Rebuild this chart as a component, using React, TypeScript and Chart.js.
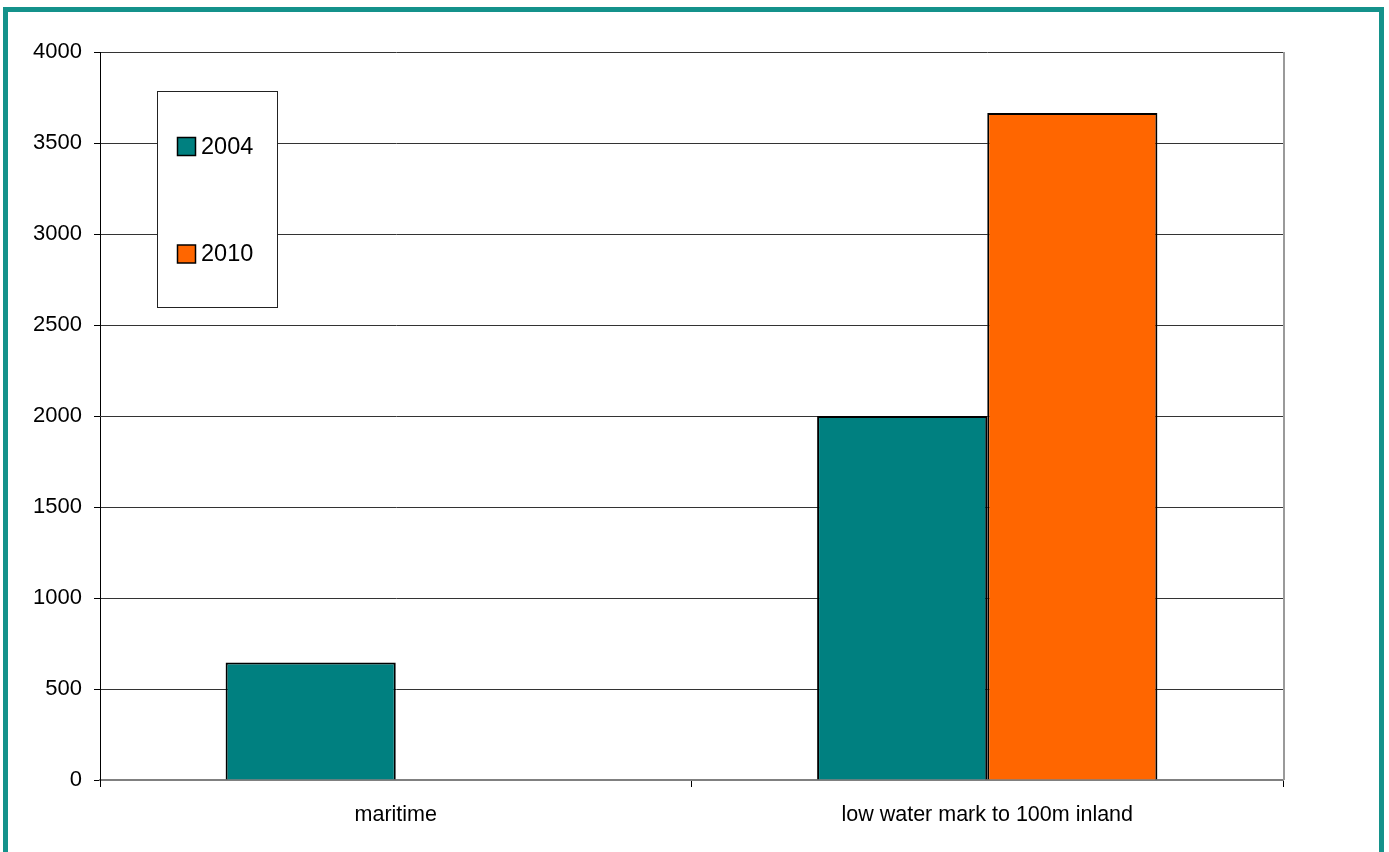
import React, { useEffect, useRef } from "react";
import { Chart, registerables } from "chart.js";

Chart.register(...registerables);

const categories: string[] = ["maritime", "low water mark to 100m inland"];
const seriesLabels: string[] = ["2004", "2010"];
const values2004: (number | null)[] = [645, 2000];
const values2010: (number | null)[] = [null, 3665];
const seriesColors: string[] = ["#008080", "#FF6600"];
const yMin = 0;
const yMax = 4000;
const yStep = 500;

const FONT = "'Liberation Sans', Arial, sans-serif";

const legendPlugin = {
  id: "boxLegend",
  afterDraw(chart: any) {
    const ctx = chart.ctx;
    const x0 = 157.5, y0 = 91.5, w = 120, h = 216;
    ctx.save();
    ctx.fillStyle = "#ffffff";
    ctx.fillRect(x0, y0, w, h);
    ctx.strokeStyle = "#222";
    ctx.lineWidth = 1;
    ctx.strokeRect(x0, y0, w, h);
    const rows = [146.5, 254];
    chart.data.datasets.forEach((ds: any, i: number) => {
      const cy = rows[i];
      ctx.fillStyle = ds.backgroundColor;
      ctx.fillRect(177.5, cy - 9, 18, 18);
      ctx.strokeStyle = "#000";
      ctx.lineWidth = 1.5;
      ctx.strokeRect(177.5, cy - 9, 18, 18);
      ctx.fillStyle = "#000";
      ctx.font = `23.5px ${FONT}`;
      ctx.textBaseline = "middle";
      ctx.textAlign = "left";
      ctx.fillText(ds.label, 201, cy + 1);
    });
    ctx.restore();
  },
};

const rightEdgePlugin = {
  id: "rightEdge",
  afterDatasetsDraw(chart: any) {
    const { ctx, chartArea } = chart;
    ctx.save();
    ctx.strokeStyle = "#9a9a9a";
    ctx.lineWidth = 2;
    ctx.beginPath();
    ctx.moveTo(chartArea.right + 1, chartArea.top);
    ctx.lineTo(chartArea.right + 1, chartArea.bottom);
    ctx.stroke();
    ctx.restore();
  },
};

export default function App() {
  const ref = useRef<HTMLCanvasElement | null>(null);

  useEffect(() => {
    document.body.style.margin = "0";
    if (!ref.current) return;
    const chart = new Chart(ref.current, {
      type: "bar",
      data: {
        labels: categories,
        datasets: [
          {
            label: seriesLabels[0],
            data: values2004,
            backgroundColor: seriesColors[0],
            borderColor: "#000",
            borderWidth: 2,
          },
          {
            label: seriesLabels[1],
            data: values2010,
            backgroundColor: seriesColors[1],
            borderColor: "#000",
            borderWidth: 2,
          },
        ],
      },
      options: {
        responsive: false,
        animation: false,
        devicePixelRatio: 1,
        layout: { padding: { top: 52, right: 106, bottom: 0, left: 0 } },
        datasets: {
          bar: { barPercentage: 1, categoryPercentage: 0.5753 },
        },
        plugins: {
          legend: { display: false },
          tooltip: { enabled: false },
          title: { display: false },
        },
        scales: {
          x: {
            afterFit: (s: any) => {
              s.height = 72;
            },
            grid: {
              offset: true,
              drawOnChartArea: false,
              drawTicks: true,
              tickLength: 7,
              color: "#000",
              tickColor: "#000",
            },
            border: { color: "#808080", width: 2 },
            ticks: {
              color: "#000",
              padding: 15,
              font: { family: FONT, size: 21.5 },
              maxRotation: 0,
            },
          },
          y: {
            min: yMin,
            max: yMax,
            afterFit: (s: any) => {
              s.width = 100;
            },
            grid: {
              color: "#333",
              lineWidth: 1,
              drawTicks: true,
              tickLength: 6,
              tickColor: "#000",
            },
            border: { color: "#000", width: 1 },
            ticks: {
              stepSize: yStep,
              color: "#000",
              padding: 12,
              font: { family: FONT, size: 22 },
              callback: (v: any) => String(v),
            },
          },
        },
      },
      plugins: [rightEdgePlugin, legendPlugin],
    });
    return () => chart.destroy();
  }, []);

  return (
    <div
      style={{
        position: "relative",
        width: 1389,
        height: 852,
        overflow: "hidden",
        background: "#fff",
      }}
    >
      <canvas
        ref={ref}
        width={1389}
        height={852}
        style={{ position: "absolute", left: 0, top: 0, width: 1389, height: 852 }}
      />
      <div
        style={{
          position: "absolute",
          left: 3,
          top: 7,
          width: 1381,
          height: 870,
          boxSizing: "border-box",
          border: "5px solid #14928b",
          pointerEvents: "none",
        }}
      />
    </div>
  );
}
